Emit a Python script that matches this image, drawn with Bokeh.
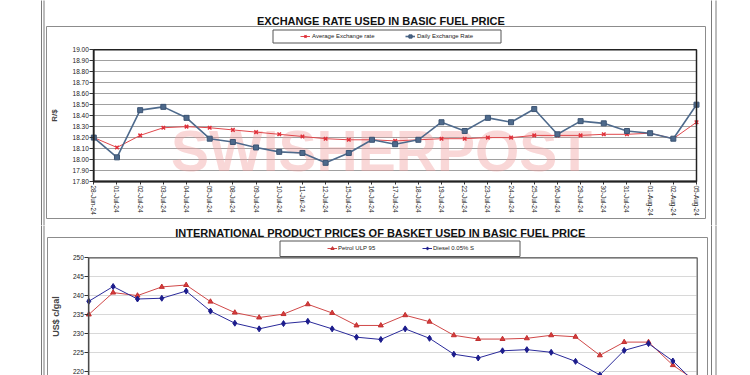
from bokeh.plotting import figure
from bokeh.models import (Range1d, FixedTicker, PrintfTickFormatter, Legend,
                          LegendItem, Label, BoxAnnotation, LinearAxis)
from bokeh.layouts import column
from bokeh.embed import file_html
from bokeh.resources import INLINE

# ---------------- data ----------------
fx_dates = ["28-Jun-24", "01-Jul-24", "02-Jul-24", "03-Jul-24", "04-Jul-24",
            "05-Jul-24", "08-Jul-24", "09-Jul-24", "10-Jul-24", "11-Jul-24",
            "12-Jul-24", "15-Jul-24", "16-Jul-24", "17-Jul-24", "18-Jul-24",
            "19-Jul-24", "22-Jul-24", "23-Jul-24", "24-Jul-24", "25-Jul-24",
            "26-Jul-24", "29-Jul-24", "30-Jul-24", "31-Jul-24", "01-Aug-24",
            "02-Aug-24", "05-Aug-24"]
avg_rate = [18.20, 18.11, 18.22, 18.29, 18.30, 18.29, 18.27, 18.25, 18.23,
            18.21, 18.19, 18.18, 18.18, 18.17, 18.18, 18.19, 18.19, 18.20,
            18.20, 18.22, 18.22, 18.22, 18.23, 18.23, 18.24, 18.19, 18.34]
daily_rate = [18.20, 18.02, 18.45, 18.48, 18.38, 18.19, 18.16, 18.11, 18.07,
              18.06, 17.97, 18.06, 18.18, 18.14, 18.18, 18.34, 18.26, 18.38,
              18.34, 18.46, 18.23, 18.35, 18.33, 18.26, 18.24, 18.19, 18.50]
fx_ticks = [17.80, 17.90, 18.00, 18.10, 18.20, 18.30, 18.40, 18.50, 18.60,
            18.70, 18.80, 18.90, 19.00]

price_dates = ["01-Jul-24", "02-Jul-24", "03-Jul-24", "04-Jul-24", "05-Jul-24",
               "08-Jul-24", "09-Jul-24", "10-Jul-24", "11-Jul-24", "12-Jul-24",
               "15-Jul-24", "16-Jul-24", "17-Jul-24", "18-Jul-24", "19-Jul-24",
               "22-Jul-24", "23-Jul-24", "24-Jul-24", "25-Jul-24", "26-Jul-24",
               "29-Jul-24", "30-Jul-24", "31-Jul-24", "01-Aug-24", "02-Aug-24",
               "05-Aug-24"]
petrol = [235.0, 240.8, 240.0, 242.3, 242.8, 238.4, 235.5, 234.2, 235.1, 237.7,
          235.4, 232.1, 232.1, 234.8, 233.1, 229.5, 228.5, 228.5, 228.7, 229.5,
          229.1, 224.2, 227.7, 227.7, 221.6, 217.2]
diesel = [238.5, 242.4, 239.1, 239.3, 241.2, 235.9, 232.7, 231.2, 232.6, 233.2,
          231.2, 229.0, 228.4, 231.2, 228.7, 224.5, 223.5, 225.4, 225.7, 225.0,
          222.6, 219.0, 225.5, 227.3, 222.7, 216.4]
price_ticks = [220, 225, 230, 235, 240, 245, 250]

FONT = "Liberation Sans"
W = 750
H_TOP = 225
H_BOT = 150


def ranges_for(n_last, lo, hi, px_left, px_right, py_top, py_bottom, h):
    """Ranges so that the data area [0..n_last]x[lo..hi] lands on the given
    canvas pixels while the frame covers the whole canvas."""
    sx = (px_right - px_left) / n_last
    sy = (py_bottom - py_top) / (hi - lo)
    xr = Range1d(-px_left / sx, n_last + (W - px_right) / sx)
    yr = Range1d(lo - (h - py_bottom) / sy, hi + py_top / sy)
    return xr, yr


def deco_box(p, left, right, top, bottom, color="#8a8a8a", width=1):
    p.add_layout(BoxAnnotation(left=left, right=right, top=top, bottom=bottom,
                               left_units="canvas", right_units="canvas",
                               top_units="canvas", bottom_units="canvas",
                               fill_alpha=0, line_color=color, line_alpha=1,
                               line_width=width))


def grid_axis(p, loc, bounds, ticks, length, color):
    g = LinearAxis(fixed_location=loc, bounds=bounds,
                   ticker=FixedTicker(ticks=ticks),
                   major_tick_in=int(round(length)),
                   major_tick_out=0, major_tick_line_color=color,
                   major_tick_line_width=1, axis_line_color=None,
                   minor_tick_line_color=None, major_label_text_color=None,
                   level="underlay")
    p.add_layout(g, "left")


def style_axis(ax):
    ax.major_tick_in = 0
    ax.minor_tick_line_color = None
    ax.major_label_text_font = FONT
    ax.major_label_text_color = "#222222"
    ax.axis_label_text_font = FONT
    ax.axis_label_text_font_style = "bold"
    ax.axis_line_color = "#222222"
    ax.major_tick_line_color = "#333333"


def make_legend(p, label, renderers, vx, vy, standoff=2):
    lg = Legend(items=[LegendItem(label=label, renderers=renderers)],
                location=(vx, vy))
    lg.padding = 0
    lg.margin = 0
    lg.border_line_color = None
    lg.background_fill_alpha = 0
    lg.glyph_width = 10
    lg.glyph_height = 8
    lg.label_height = 8
    lg.label_standoff = standoff
    lg.label_text_font = FONT
    lg.label_text_font_size = "6px"
    lg.label_text_color = "#222222"
    p.add_layout(lg)


def title_label(p, text, x, y):
    p.add_layout(Label(x=x, y=y, x_units="canvas", y_units="canvas",
                       text=text, text_align="center", text_baseline="middle",
                       text_font=FONT, text_font_style="bold",
                       text_font_size="11px", text_color="#111111"))


# ---------------- top chart ----------------
n_fx = len(fx_dates) - 1
T_L, T_R, T_T, T_B = 93.3, 696.0, 49.3, 181.0
xr, yr = ranges_for(n_fx, fx_ticks[0], fx_ticks[-1], T_L, T_R, T_T, T_B, H_TOP)
top = figure(width=W, height=H_TOP, output_backend="svg", toolbar_location=None,
             x_range=xr, y_range=yr, min_border=0)
top.background_fill_color = "white"
top.border_fill_color = "white"
top.outline_line_color = None
top.xgrid.visible = False
top.ygrid.visible = False

# watermark
top.add_layout(Label(x=381, y=150, x_units="canvas", y_units="canvas",
                     text="SWISHERPOST", text_align="center",
                     text_baseline="middle", text_font=FONT,
                     text_font_style="bold", text_font_size="57px",
                     text_color="#f0a0a0", text_alpha=0.42, level="underlay"))

grid_axis(top, 0, (fx_ticks[0], fx_ticks[-1]), fx_ticks, T_R - T_L, "#a0a0a0")

# plot-area border
top.add_layout(BoxAnnotation(left=0, right=n_fx, bottom=fx_ticks[0],
                             top=fx_ticks[-1], fill_alpha=0,
                             line_color="#222222", line_alpha=1,
                             line_width=1.5))

yax = top.yaxis[0]
style_axis(yax)
yax.fixed_location = 0
yax.bounds = (fx_ticks[0], fx_ticks[-1])
yax.ticker = FixedTicker(ticks=fx_ticks)
yax.formatter = PrintfTickFormatter(format="%.2f")
yax.major_label_text_font_size = "6.5px"
yax.major_tick_out = 4
yax.major_label_standoff = 1
yax.axis_line_width = 1.5
yax.axis_label = "R/$"
yax.axis_label_text_font_size = "8px"
yax.axis_label_standoff = 10

xax = top.xaxis[0]
style_axis(xax)
xax.fixed_location = fx_ticks[0]
xax.bounds = (0, n_fx)
xax.ticker = FixedTicker(ticks=list(range(len(fx_dates))))
xax.major_label_overrides = {i: d for i, d in enumerate(fx_dates)}
xax.major_label_orientation = "vertical"
xax.major_label_text_font_size = "6.5px"
xax.major_tick_out = 3
xax.major_label_standoff = 1
xax.axis_line_width = 2

xi = list(range(len(fx_dates)))
avg_line = top.line(xi, avg_rate, line_color="#e0484c", line_width=1)
avg_pts = top.scatter(xi, avg_rate, marker="x", size=5, line_color="#e0303a",
                      line_width=1.5)
day_line = top.line(xi, daily_rate, line_color="#4e6a8c", line_width=1.6)
day_pts = top.scatter(xi, daily_rate, marker="square", size=5,
                      fill_color="#4e6a8c", line_color="#3c5473")

make_legend(top, "Average Exchange rate", [avg_line, avg_pts], 300, H_TOP - 40)
make_legend(top, "Daily Exchange Rate", [day_line, day_pts], 405, H_TOP - 40)

title_label(top, "EXCHANGE RATE USED IN BASIC FUEL PRICE", 380.5, 20.5)
deco_box(top, 46, 705, 26, 218, color="#8c8c8c")
deco_box(top, 272.5, 500.5, 29.5, 42.5, color="#555555")
deco_box(top, 41, 43.5, -10, H_TOP + 10, color="#7a7a7a")
deco_box(top, 711, 715.5, -10, H_TOP + 10, color="#7a7a7a")

# ---------------- bottom chart ----------------
n_pr = len(price_dates) - 1
B_L, B_R, B_T = 88.3, 696.7, 32.3
px_per_unit = 3.78
B_B = B_T + (price_ticks[-1] - price_ticks[0]) * px_per_unit
xr2, yr2 = ranges_for(n_pr, price_ticks[0], price_ticks[-1], B_L, B_R, B_T,
                      B_B, H_BOT)
bot = figure(width=W, height=H_BOT, output_backend="svg", toolbar_location=None,
             x_range=xr2, y_range=yr2, min_border=0)
bot.background_fill_color = "white"
bot.border_fill_color = "white"
bot.outline_line_color = None
bot.xgrid.visible = False
bot.ygrid.visible = False
bot.xaxis.visible = False

grid_axis(bot, 0, (yr2.start, price_ticks[-1]), price_ticks, B_R - B_L,
          "#d8d8d8")
bot.add_layout(BoxAnnotation(left=0, right=n_pr, bottom=yr2.start - 5,
                             top=price_ticks[-1], fill_alpha=0,
                             line_color="#555555", line_alpha=1,
                             line_width=1.2))

yb = bot.yaxis[0]
style_axis(yb)
yb.fixed_location = 0
yb.bounds = (yr2.start, price_ticks[-1])
yb.ticker = FixedTicker(ticks=price_ticks)
yb.major_label_text_font_size = "6.5px"
yb.major_tick_out = 4
yb.major_label_standoff = 1
yb.axis_line_width = 1.2
yb.axis_label = "US$ c/gal"
yb.axis_label_text_font_size = "9px"
yb.axis_label_standoff = 9

px = list(range(len(price_dates)))
pet_line = bot.line(px, petrol, line_color="#d04848", line_width=1)
pet_pts = bot.scatter(px, petrol, marker="triangle", size=5,
                      fill_color="#d83c3c", line_color="#c03030")
die_line = bot.line(px, diesel, line_color="#2a2a9a", line_width=1)
die_pts = bot.scatter(px, diesel, marker="diamond", size=6,
                      fill_color="#1c1c8c", line_color="#1c1c8c")

make_legend(bot, "Petrol ULP 95", [pet_line, pet_pts], 327, H_BOT - 27, 1)
make_legend(bot, "Diesel 0.05% S", [die_line, die_pts], 422, H_BOT - 27, 1)

title_label(bot, "INTERNATIONAL PRODUCT PRICES OF BASKET USED IN BASIC FUEL PRICE",
            380, 7)
deco_box(bot, 47, 707, 12, H_BOT + 20, color="#8c8c8c")
deco_box(bot, 279.5, 519.5, 15.5, 31, color="#555555")
deco_box(bot, 41, 43.5, -10, H_BOT + 10, color="#7a7a7a")
deco_box(bot, 711, 715.5, -10, H_BOT + 10, color="#7a7a7a")

layout = column(top, bot, spacing=0)
open("out.html", "w").write(file_html(layout, INLINE))
